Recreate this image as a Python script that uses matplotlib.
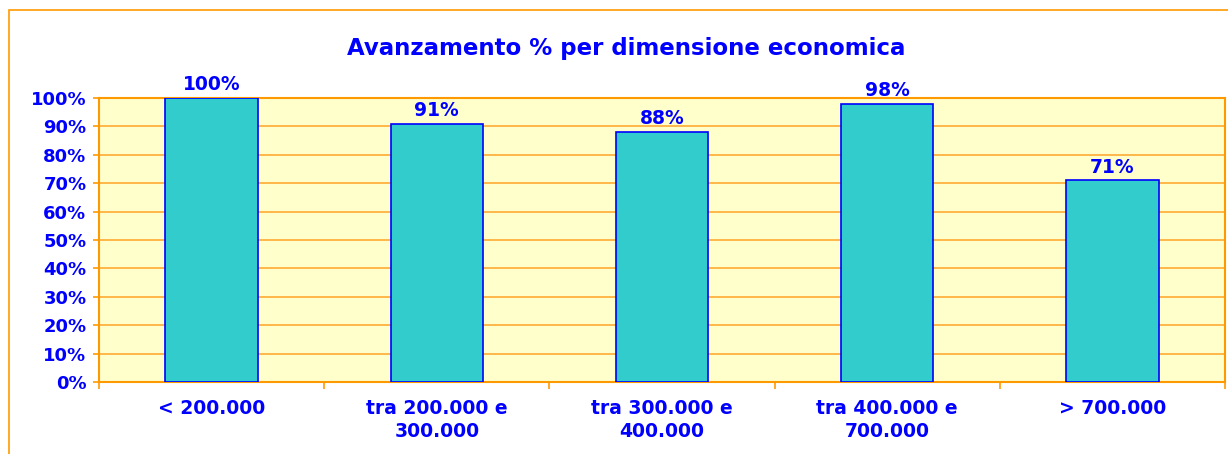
import matplotlib.pyplot as plt
from matplotlib.patches import Rectangle
import numpy as np

categories = ["< 200.000", "tra 200.000 e\n300.000", "tra 300.000 e\n400.000",
              "tra 400.000 e\n700.000", "> 700.000"]
values = [100, 91, 88, 98, 71]
y_ticks = [0, 10, 20, 30, 40, 50, 60, 70, 80, 90, 100]

blue = '#0000FF'
orange = '#FF9900'
grid_orange = '#FFAA33'

fig = plt.figure(figsize=(12.28, 4.54), dpi=100)
ax = fig.add_axes([99 / 1228, 1 - 382 / 454, (1225 - 99) / 1228, (382 - 98) / 454])
ax.set_facecolor('#FFFFCC')

x = np.arange(len(categories))
ax.bar(x, values, width=0.41, color='#33CCCC', edgecolor=blue, linewidth=1.2, zorder=3)

# value labels above the bars
for xi, v in zip(x, values):
    ax.text(xi, v + 1.3, f"{v}%", ha='center', va='bottom', color=blue,
            fontsize=13.5, fontweight='bold', zorder=4)

ax.set_xlim(-0.5, len(categories) - 0.5)
ax.set_ylim(0, 100)
ax.set_yticks(y_ticks)
ax.set_yticklabels([f"{t}%" for t in y_ticks])
ax.yaxis.grid(True, color=grid_orange, linewidth=1.2, zorder=0)
ax.set_axisbelow(True)

ax.set_xticks(x)
ax.set_xticklabels(categories, linespacing=1.3)
ax.set_xticks(np.arange(-0.5, len(categories)), minor=True)
ax.tick_params(axis='x', which='major', length=0, pad=12)
ax.tick_params(axis='x', which='minor', length=5, color=orange, width=1.2)
ax.tick_params(axis='y', length=4, color=orange, width=1.2, pad=5)

for lbl in ax.get_xticklabels():
    lbl.set_color(blue)
    lbl.set_fontweight('bold')
    lbl.set_fontsize(13.5)
for lbl in ax.get_yticklabels():
    lbl.set_color(blue)
    lbl.set_fontweight('bold')
    lbl.set_fontsize(13)

for s in ax.spines.values():
    s.set_color(orange)
    s.set_linewidth(1.5)

fig.text(626 / 1228, 1 - 48 / 454, "Avanzamento % per dimensione economica",
         ha='center', va='center', color=blue, fontsize=16.5, fontweight='bold')

# outer chart frame
fig.patches.append(Rectangle((9 / 1228, -0.1), 1.5, 1 - 10 / 454 + 0.1,
                             transform=fig.transFigure, fill=False,
                             edgecolor=orange, linewidth=1.2))

fig.savefig("out.png", dpi=100)
